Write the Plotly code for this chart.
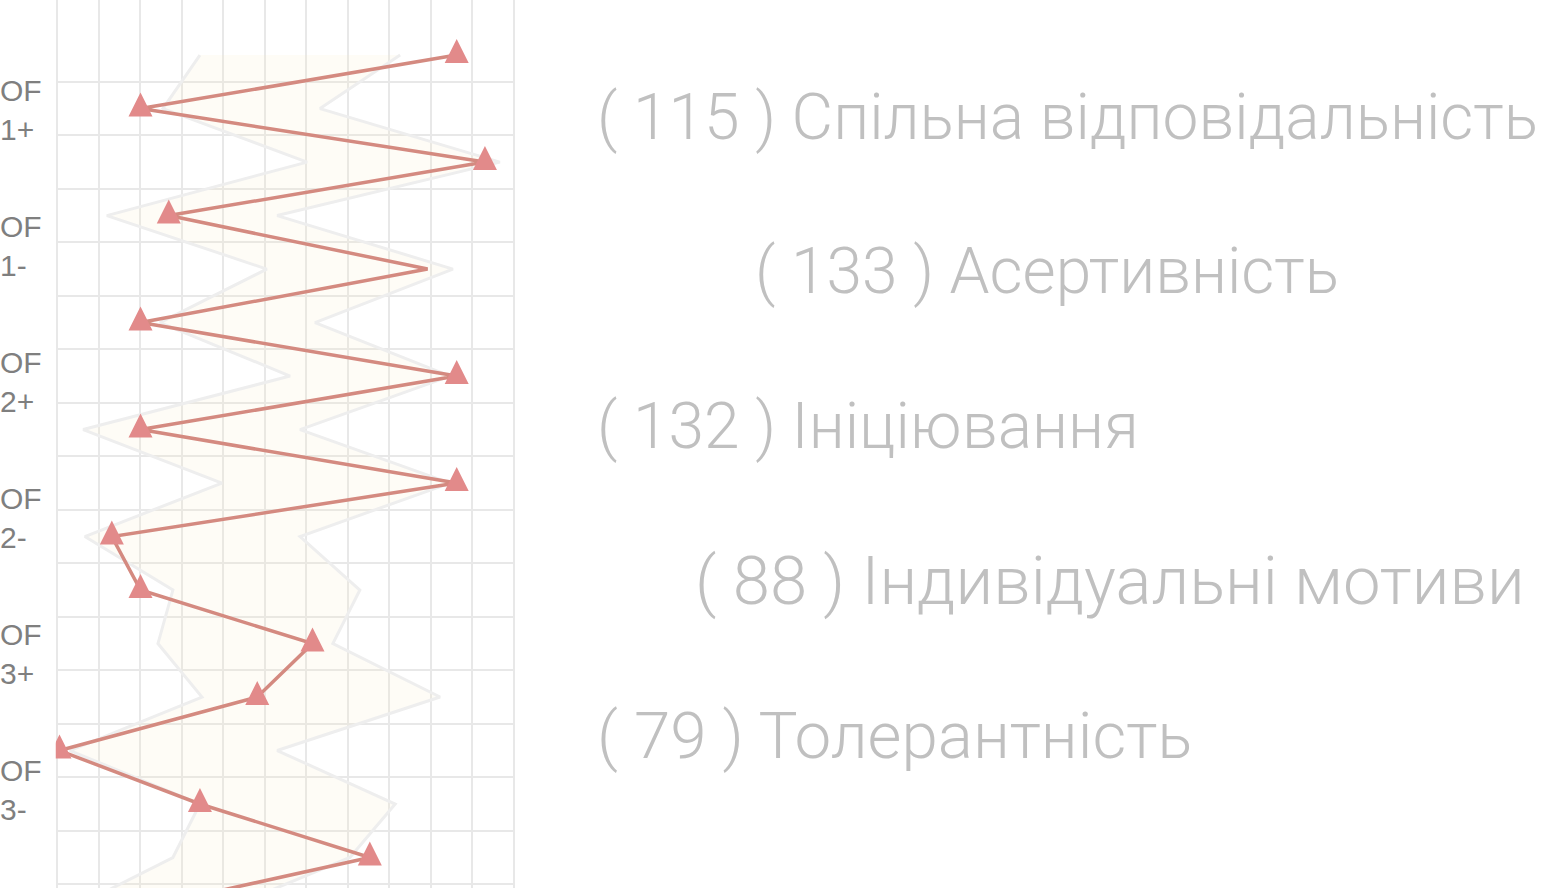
import plotly.graph_objects as go

# ---- data ----
rows = list(range(17))
score = [96.2, 20.1, 103.0, 26.9, 89.2, 20.1, 96.2, 20.1, 96.2, 13.2,
         20.1, 61.5, 48.2, 0.6, 34.4, 75.3, 17.0]
has_marker = [True, True, True, True, False, True, True, True, True, True,
              True, True, True, True, True, True, True]
band_low = [34.4, 25.5, 60.2, 12.0, 50.5, 24.8, 56.1, 6.3, 39.7, 6.7,
            27.9, 24.3, 34.9, 3.1, 34.4, 27.9, 2.4]
band_high = [82.6, 63.3, 106.6, 53.0, 95.3, 62.1, 94.6, 58.5, 94.6, 58.5,
             72.9, 66.4, 92.2, 53.0, 81.4, 70.5, 39.5]
factor_labels = ["OF<br>1+", "OF<br>1-", "OF<br>2+", "OF<br>2-", "OF<br>3+", "OF<br>3-"]
scale_counts = [115, 133, 132, 88, 79]
scale_names = ["Спільна відповідальність", "Асертивність", "Ініціювання",
               "Індивідуальні мотиви", "Толерантність"]
x_ticks = list(range(0, 111, 10))

# ---- layout constants ----
W, H = 1560, 888
LINE_COLOR = "#d48a80"
MARK_COLOR = "#e28a8a"
GRID = "#e8e8e8"
text_left_px = [595, 753, 595, 693, 595]
text_size = [64, 64, 64, 67, 65.5]

fig = go.Figure()

# band
fig.add_trace(go.Scatter(
    x=band_low + band_high[::-1],
    y=rows + rows[::-1],
    mode="lines",
    fill="toself",
    fillcolor="rgba(250,232,185,0.13)",
    line=dict(color="#eeeeee", width=3),
    hoverinfo="skip",
    showlegend=False,
))

# profile line
fig.add_trace(go.Scatter(
    x=score, y=rows, mode="lines",
    line=dict(color=LINE_COLOR, width=3.5),
    showlegend=False,
))

shapes = []
for xv, yv, m in zip(score, rows, has_marker):
    if not m:
        continue
    shapes.append(dict(
        type="path", xref="x", yref="y",
        xsizemode="pixel", ysizemode="pixel",
        xanchor=xv, yanchor=yv,
        path="M -12,-8 L 12,-8 L 0,16 Z",
        fillcolor=MARK_COLOR, line=dict(width=0), layer="above",
    ))

annotations = []
for i, lab in enumerate(factor_labels):
    annotations.append(dict(
        xref="paper", x=-0.001, xanchor="left",
        yref="y", y=1.03 + 2.542 * i, yanchor="middle",
        text=lab, align="left", showarrow=False,
        font=dict(family="Liberation Sans, Arial, sans-serif", size=30, color="#7f7f7f"),
    ))

for i, (c, n) in enumerate(zip(scale_counts, scale_names)):
    annotations.append(dict(
        xref="paper", x=text_left_px[i] / W, xanchor="left",
        yref="paper", y=1 - (117 + 154.5 * i) / H, yanchor="middle",
        text=f"( {c} ) {n}", showarrow=False,
        font=dict(family="Roboto, sans-serif", weight=300, size=text_size[i], color="#c0c0c0"),
    ))

px_per = (514 - 57) / 110.0
x0_px = 57 - 0.3 * px_per
x1_px = 514 + 0.3 * px_per

fig.update_layout(
    width=W, height=H,
    margin=dict(l=0, r=0, t=0, b=0),
    paper_bgcolor="white", plot_bgcolor="white",
    shapes=shapes, annotations=annotations,
    xaxis=dict(domain=[x0_px / W, x1_px / W], range=[-0.3, 110.3],
               tickmode="array", tickvals=x_ticks, showticklabels=False,
               showgrid=True, gridcolor=GRID, gridwidth=2,
               zeroline=False, showline=False, ticks=""),
    yaxis=dict(domain=[0, 1], range=[15.57, -1.03],
               tickmode="array", tickvals=[r + 0.5 for r in rows[:-1]],
               showticklabels=False,
               showgrid=True, gridcolor=GRID, gridwidth=2,
               zeroline=False, showline=False, ticks=""),
    hovermode=False,
)

fig.write_html("out.html", config={"displayModeBar": False},
               post_script="document.body.style.margin='0';")
